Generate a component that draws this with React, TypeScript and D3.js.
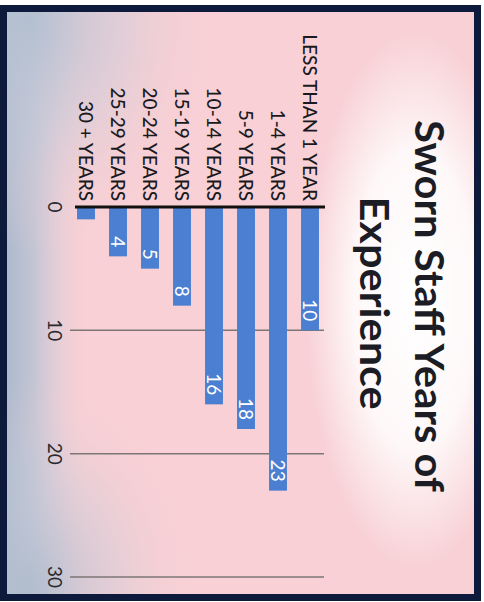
import React from "react";
import * as d3 from "d3";

const categories = [
  "LESS THAN 1 YEAR",
  "1-4 YEARS",
  "5-9 YEARS",
  "10-14 YEARS",
  "15-19 YEARS",
  "20-24 YEARS",
  "25-29 YEARS",
  "30 + YEARS",
];
const values = [10, 23, 18, 16, 8, 5, 4, 1];
const ticks = [0, 10, 20, 30];
const titleLines = ["Sworn Staff Years of", "Experience"];

const W = 484;
const H = 602;

export default function App() {
  // chart is drawn in a rotated frame: u = screen y, v = W - screen x
  const x = d3.scaleLinear().domain([0, 30]).range([207, 577]);
  const y = d3
    .scaleBand<string>()
    .domain(categories)
    .range([158, 414])
    .paddingInner(0.44)
    .paddingOuter(0.22);
  const bw = y.bandwidth();
  const font = "Lato, 'Open Sans', sans-serif";

  return (
    <svg
      width={W}
      height={H}
      style={{ position: "absolute", left: 0, top: 0 }}
      xmlns="http://www.w3.org/2000/svg"
    >
      <defs>
        <linearGradient id="leftStrip" x1="0" y1="0" x2="1" y2="0">
          <stop offset="0" stopColor="#a9b8cc" stopOpacity="1" />
          <stop offset="0.06" stopColor="#b4c1d3" stopOpacity="0.8" />
          <stop offset="0.12" stopColor="#c4cada" stopOpacity="0.3" />
          <stop offset="0.18" stopColor="#f8d0d5" stopOpacity="0" />
        </linearGradient>
        <radialGradient id="topLeft" cx="0.05" cy="0.02" r="0.4">
          <stop offset="0" stopColor="#b3bfd0" stopOpacity="0.95" />
          <stop offset="0.5" stopColor="#c5cad9" stopOpacity="0.45" />
          <stop offset="1" stopColor="#f8d0d5" stopOpacity="0" />
        </radialGradient>
        <radialGradient id="botLeft" cx="0.05" cy="0.98" r="0.35">
          <stop offset="0" stopColor="#b0bccd" stopOpacity="0.9" />
          <stop offset="0.6" stopColor="#c7cbd9" stopOpacity="0.3" />
          <stop offset="1" stopColor="#f8d0d5" stopOpacity="0" />
        </radialGradient>
        <radialGradient id="whiteGlow" cx="0.5" cy="0.5" r="0.5">
          <stop offset="0" stopColor="#ffffff" stopOpacity="1" />
          <stop offset="0.55" stopColor="#ffffff" stopOpacity="0.85" />
          <stop offset="1" stopColor="#ffffff" stopOpacity="0" />
        </radialGradient>
      </defs>
      <rect x={0} y={0} width={W} height={H} fill="#ffffff" />
      <rect x={4} y={8} width={474} height={590} fill="#f8d0d5" />
      <ellipse cx={415} cy={300} rx={110} ry={270} fill="url(#whiteGlow)" />
      <rect x={4} y={8} width={474} height={590} fill="url(#leftStrip)" />
      <rect x={4} y={8} width={474} height={590} fill="url(#topLeft)" />
      <rect x={4} y={8} width={474} height={590} fill="url(#botLeft)" />

      <g transform={`translate(${W},0) rotate(90)`}>
        {/* grid lines */}
        {ticks
          .filter((t) => t > 0)
          .map((t) => (
            <line
              key={"g" + t}
              x1={x(t)}
              x2={x(t)}
              y1={160}
              y2={414}
              stroke="#7c7676"
              strokeWidth={1.5}
            />
          ))}
        {/* bars */}
        {categories.map((c, i) => (
          <rect
            key={"b" + c}
            x={x(0)}
            y={y(c)}
            width={x(values[i]) - x(0)}
            height={bw}
            fill="#4a7fd1"
          />
        ))}
        {/* value labels */}
        {categories.map((c, i) =>
          values[i] > 1 ? (
            <text
              key={"v" + c}
              x={x(values[i]) - 9}
              y={(y(c) as number) + bw / 2}
              dy="0.36em"
              textAnchor="end"
              fill="#ffffff"
              fontFamily={font}
              fontSize={19}
            >
              {values[i]}
            </text>
          ) : null
        )}
        {/* axis line */}
        <line
          x1={x(0)}
          x2={x(0)}
          y1={159}
          y2={409}
          stroke="#111111"
          strokeWidth={3}
        />
        {/* category labels */}
        {categories.map((c) => (
          <text
            key={"c" + c}
            x={x(0) - 6}
            y={(y(c) as number) + bw / 2}
            dy="0.36em"
            textAnchor="end"
            fill="#1a1a1e"
            fontFamily={font}
            fontWeight={500}
            fontSize={19}
          >
            {c}
          </text>
        ))}
        {/* tick labels */}
        {ticks.map((t) => (
          <text
            key={"t" + t}
            x={x(t)}
            y={429}
            dy="0.36em"
            textAnchor="middle"
            fill="#2a2a2e"
            fontFamily={font}
            fontSize={19}
          >
            {t}
          </text>
        ))}
        {/* title */}
        <text
          x={306}
          y={69}
          textAnchor="middle"
          fill="#1c1c24"
          fontFamily={font}
          fontWeight={700}
          fontSize={41}
          textLength={372}
          lengthAdjust="spacingAndGlyphs"
        >
          {titleLines[0]}
        </text>
        <text
          x={303}
          y={124}
          textAnchor="middle"
          fill="#1c1c24"
          fontFamily={font}
          fontWeight={700}
          fontSize={41}
          textLength={213}
          lengthAdjust="spacingAndGlyphs"
        >
          {titleLines[1]}
        </text>
      </g>

      {/* frame */}
      <rect
        x={3.5}
        y={8.5}
        width={474}
        height={589}
        fill="none"
        stroke="#0e1a3c"
        strokeWidth={7}
      />
    </svg>
  );
}
